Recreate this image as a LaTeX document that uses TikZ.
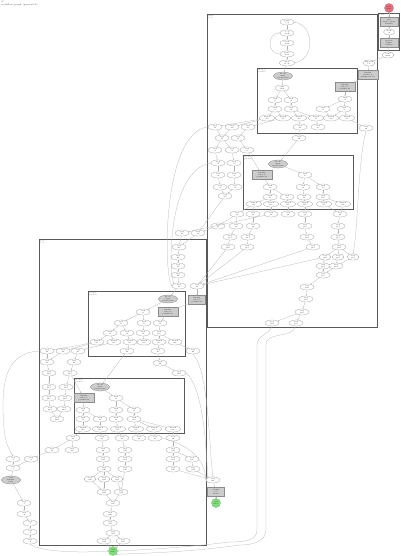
\documentclass[tikz,border=0pt]{standalone}
\usetikzlibrary{shapes.geometric,arrows.meta}
\definecolor{startred}{HTML}{E8707E}
\definecolor{endgreen}{HTML}{7FE07A}
\tikzset{
  every node/.style={font=\fontsize{1.6}{1.9}\selectfont, align=center, inner sep=0.2pt},
  st/.style={ellipse, draw=black!40, line width=0.25pt, fill=white, minimum width=14, minimum height=6},
  wst/.style={st, minimum width=15},
  gst/.style={ellipse, draw=black!50, line width=0.25pt, fill=black!20, minimum width=19, minimum height=8},
  grect/.style={rectangle, draw=black!45, line width=0.25pt, fill=black!20, minimum width=20, minimum height=9},
  startnd/.style={circle, draw=startred!80!black, line width=0.25pt, fill=startred, minimum size=9},
  endnd/.style={circle, draw=endgreen!80!black, line width=0.25pt, fill=endgreen, minimum size=9},
  clbox/.style={draw=black!65, line width=0.7pt},
  cltxt/.style={anchor=north west, align=left, text=black!70},
  edge/.style={draw=black!30, line width=0.25pt, -{Stealth[length=1.3pt,width=1pt]}},
}
\begin{document}
\begin{tikzpicture}[x=1pt, y=-1pt]
\useasboundingbox (0,0) rectangle (400,556);
\node[cltxt, font=\fontsize{2.2}{2.6}\selectfont] (title) at (1,1) {G\\ workflow graph (generated)};

% cluster boxes
\draw[clbox] (378,13) rectangle (399,50);
\node[cltxt] (lab0) at (379,14) {setup};
\draw[clbox] (207,14) rectangle (377,327);
\node[cltxt] (lab1) at (208,15) {main\\ loop};
\draw[clbox] (257,68) rectangle (357,133.5);
\node[cltxt] (lab2) at (258,69) {block 1\\ parallel};
\draw[clbox] (243,155) rectangle (353,209.5);
\node[cltxt] (lab3) at (244,156) {block 2\\ parallel};
\draw[clbox] (39,239) rectangle (206,545);
\node[cltxt] (lab4) at (40,240) {post\\ loop};
\draw[clbox] (88,291) rectangle (185,356);
\node[cltxt] (lab5) at (89,292) {block 3\\ parallel};
\draw[clbox] (74,378) rectangle (184,433.5);
\node[cltxt] (lab6) at (75,379) {block 4\\ parallel};

% start and setup
\node[startnd] (start) at (389,8) {start\\ state};
\node[grect, minimum width=18] (a1) at (389,22) {init\\ setup context\\ defaults};
\node[st, minimum width=11] (a2) at (389,32) {check\\ ok};
\node[grect, minimum width=18] (a3) at (389,43) {prepare\\ inputs\\ validate};
\node[st, minimum width=12] (a4) at (388,55) {route\\ main};
\node[st, minimum width=12] (a5) at (369,63) {dispatch\\ job};
\node[grect] (a6) at (368,75) {handler\\ batch job\\ parameters set};
\node[grect] (a7) at (345,87) {handler\\ sub job\\ parameters};

% main loop
\node[st] (b1) at (287,22) {begin\\ loop};
\node[st] (b2) at (287,33) {loop\\ check};
\node[st] (b3) at (287,43) {fetch\\ item};
\node[st] (b4) at (287,54) {parse\\ item};
\node[wst] (b5) at (287,63) {enter\\ block};

% block 1
\node[gst] (c1) at (283,76) {block\\ start\\ parallel run};
\node[st] (c2) at (282,88) {split\\ task};
\foreach \n/\x/\y in {c3/275/100, c4/291/100, c5/275/109, c6/291/109, c7/323/109, c8/344/109, c9/345/99}
  \node[st] (\n) at (\x,\y) {task\\ \n};
\foreach \n/\x in {c10/267, c11/283, c12/299, c13/316, c14/331, c15/347}
  \node[wst] (\n) at (\x,118) {branch\\ \n};
\foreach \n/\x/\y in {d4/300/127, d5/318/127, d1/215/127, d2/232/127, d3/248/127, d6/366/128,
    d7/222/138, d8/238/138, d9/299/138, e1/215/150, e2/232/150, e3/247/150,
    e4/218/163, e5/234/163, e6/218/175, e7/234/175, e8/220/187, e9/235/187, e10/225/196}
  \node[st] (\n) at (\x,\y) {step\\ \n};

% block 2
\node[gst] (f1) at (278,164) {block\\ start\\ parallel run};
\node[grect] (f2) at (262,175) {handler\\ sub job\\ parameters};
\foreach \n/\x/\y in {f3/305/175, f4/303/187, f5/323/187, f6/270/187, f7/270/197, f8/287/197, f9/304/197, f10/323/197}
  \node[st] (\n) at (\x,\y) {task\\ \n};
\foreach \n/\x in {f11/254, f12/271, f13/288, f14/305, f15/324, f16/343}
  \node[wst] (\n) at (\x,204) {branch\\ \n};
\foreach \n/\x/\y in {g1/237/214, g2/253/214, g3/271/214, g4/288/214, g5/305/214, g6/340/214,
    g7/218/226, g8/236/226, g9/253/226, g10/305/226, g11/338/226,
    g12/230/237, g13/248/237, g14/307/237, g15/338/237,
    g16/228/247, g17/247/247, g18/313/247, g19/339/247,
    g23/323/266, g24/336/266, g25/323/275, g26/307/287, g27/306/299, g28/302/312,
    g29/272/323, g30/296/323}
  \node[st] (\n) at (\x,\y) {step\\ \n};
\foreach \n/\x in {g20/325, g21/338, g22/353}
  \node[st, minimum width=12] (\n) at (\x,257) {step\\ \n};

% post loop
\foreach \n/\x/\y in {h1/182/233, h2/198/233, h3/179/247, h4/178/257, h5/178/266, h6/178/275, h7/179/286, h8/197/286}
  \node[st] (\n) at (\x,\y) {step\\ \n};
\node[grect, minimum width=17] (j0) at (197,300) {handler\\ sub job\\ parameters};

% block 3
\node[gst] (i1) at (168,299) {block\\ start\\ parallel run};
\node[grect] (i2) at (168,312) {handler\\ sub job\\ parameters};
\foreach \n/\x/\y in {i3/143/312, i4/121/323, i5/144/323, i6/160/323, i7/110/333, i8/127/333, i9/143/333, i10/159/333}
  \node[st] (\n) at (\x,\y) {task\\ \n};
\foreach \n/\x in {i11/97, i12/114, i13/130, i14/144, i15/159, i16/175}
  \node[st] (\n) at (\x,342) {branch\\ \n};
\foreach \n/\x/\y in {k4/127/351, k5/158/351, k1/47/351, k2/63/351, k3/78/351, k6/193/351,
    k7/47/362, k8/74/362, k9/160/363, k10/49/373, k11/70/373, k12/179/373,
    k13/49/387, k14/66/387, k15/49/398, k16/65/398, k17/50/409, k18/64/409, k19/57/419}
  \node[st] (\n) at (\x,\y) {step\\ \n};

% block 4
\node[gst] (l1) at (100,387) {block\\ start\\ parallel run};
\node[grect] (l2) at (84,398) {handler\\ sub job\\ parameters};
\foreach \n/\x/\y in {l3/116/398, l4/83/410, l5/116/410, l6/134/410, l7/83/419, l8/100/419, l9/116/419, l10/134/419}
  \node[st] (\n) at (\x,\y) {task\\ \n};
\foreach \n/\x in {l11/83, l12/100, l13/118, l14/136, l15/154, l16/173}
  \node[wst] (\n) at (\x,429) {branch\\ \n};
\foreach \n/\x/\y in {n1/73/438, n2/102/438, n3/122/438, n4/139/438, n5/155/438, n6/173/438,
    n7/52/450, n8/72/450, n9/103/450, n10/125/450, n11/173/450,
    n12/103/459, n13/125/459, n14/173/459, n15/192/459,
    n16/104/469, n17/125/469, n18/173/469, n19/193/469,
    n23/104/492, n24/121/492, n25/113/503, n26/110/514, n27/110/523, n28/113/533,
    n29/104/541, n30/123/541}
  \node[st] (\n) at (\x,\y) {step\\ \n};
\foreach \n/\x in {n20/90, n21/104, n22/117}
  \node[st, minimum width=12] (\n) at (\x,479) {step\\ \n};
\node[endnd] (end) at (113,551) {end\\ state};

% outside left
\foreach \n/\x/\y in {o1/13/459, o2/31/459, o3/13/468, o5/24/503, o6/24/514, o7/30/523, o8/30/532, o9/30/541}
  \node[st] (\n) at (\x,\y) {step\\ \n};
\node[gst] (o4) at (11,480) {fail\\ handler\\ retry};

% outside right
\node[st] (m1) at (213,480) {step\\ m1};
\node[grect, minimum width=17] (m2) at (216,492) {cleanup\\ job\\ release};
\node[endnd] (end2) at (216,503) {end\\ error};

% edges
\foreach \a/\b in {start/a1, a1/a2, a2/a3, a3/a4, a4/a5, a5/a6, a6/a7, a7/c9, c9/c8, c9/c7,
    b1/b2, b2/b3, b3/b4, b4/b5, b5/c1, c1/c2, c2/c3, c2/c4, c3/c5, c4/c6,
    c5/c10, c5/c11, c6/c12, c6/c13, c8/c15, c7/c14, c8/c14, c12/d4, c13/d5, d4/d9, d9/f1,
    c10/d1, c10/d2, c11/d3, d1/d7, d2/d7, d3/d8, d7/e1, d7/e2, d8/e3,
    e1/e4, e2/e5, e4/e6, e5/e7, e6/e8, e7/e9, e8/e10, e9/e10, c15/d6, e3/f2,
    f1/f3, f2/f6, f3/f4, f3/f5, f6/f7, f6/f8, f4/f9, f5/f10,
    f7/f11, f7/f12, f8/f13, f9/f14, f10/f15, f10/f16,
    f11/g1, f11/g2, f12/g3, f13/g4, f14/g5, f15/g6, f16/g6,
    g1/g7, g1/g8, g2/g9, g8/g12, g9/g13, g12/g16, g13/g17, g5/g10, g10/g14, g14/g18,
    g6/g11, g11/g15, g15/g19, g19/g20, g19/g21, g19/g22, g20/g23, g21/g24, g22/g24,
    g23/g25, g24/g25, g25/g26, g26/g27, g27/g28, g28/g29, g28/g30,
    g7/h2, g3/h1, e10/h2, g16/h8, g17/h8, g18/h8, g20/h8,
    h1/h3, h2/h3, h3/h4, h4/h5, h5/h6, h6/h7, h7/i1, h8/j0, j0/i2,
    i1/i3, i2/i6, i3/i4, i3/i5, i4/i7, i4/i8, i5/i9, i6/i10,
    i7/i11, i7/i12, i8/i13, i9/i14, i10/i15, i10/i16, i13/k4, i15/k5, i16/k6, k5/k9, k9/k12, k4/l1,
    i11/k1, i11/k2, i12/k3, k1/k7, k2/k7, k3/k8, k7/k10, k8/k11, k10/k13, k11/k14,
    k13/k15, k14/k16, k15/k17, k16/k18, k17/k19, k18/k19, k11/l2,
    l1/l3, l2/l4, l3/l5, l3/l6, l4/l7, l4/l8, l5/l9, l6/l10,
    l7/l11, l8/l12, l9/l13, l10/l14, l10/l15, l10/l16,
    l11/n1, l12/n2, l13/n3, l14/n4, l15/n5, l16/n6, n1/n7, n1/n8, n2/n9, n3/n10,
    n9/n12, n10/n13, n12/n16, n13/n17, n16/n20, n16/n21, n16/n22, n17/n24,
    n20/n23, n21/n23, n22/n24, n23/n25, n24/n25, n25/n26, n26/n27, n27/n28,
    n28/n29, n28/n30, n29/end, n30/end,
    n6/n11, n11/n14, n11/n15, n14/n18, n15/n19, n18/m1, n19/m1, m1/m2, m2/end2,
    n7/o2, o1/o3, o2/o3, o3/o4, o4/o5, o5/o6, o6/o7, o7/o8, o8/o9}
  \draw[edge] (\a) -- (\b);

% long curved edges
\draw[edge] (b4.west) to[out=180, in=180, looseness=1.6] (b2.west);
\draw[edge] (b5.east) to[out=10, in=-10, looseness=1.3] (b1.east);
\draw[edge] (d6.south) .. controls (358,160) and (358,230) .. (g22.north);
\draw[edge] (d1.west) .. controls (163,132) and (163,270) .. (h7.west);
\draw[edge] (e4.west) .. controls (168,170) and (168,270) .. (h7.north west);
\draw[edge] (k6.south) .. controls (209,370) and (209,450) .. (m1.north);
\draw[edge] (k12.east) .. controls (205,390) and (206,455) .. (m1.north west);
\draw[edge] (n5.east) .. controls (190,445) and (205,460) .. (m1.west);
\draw[edge] (k1.west) .. controls (12,352) and (3,372) .. (3,405) .. controls (3,440) and (8,448) .. (o1.north);
\draw[edge] (o9.south) .. controls (40,552) and (80,553) .. (end.west);
\draw[edge] (g29.south) to[out=-110, in=90] (257,345) -- (257,530) to[out=-90, in=0] (230,542) .. controls (180,548) and (140,550) .. (end.east);
\draw[edge] (g30.south) to[out=-110, in=90] (266,345) -- (266,530) to[out=-90, in=0] (240,545) .. controls (190,552) and (150,553) .. (end.south east);
\end{tikzpicture}
\end{document}
